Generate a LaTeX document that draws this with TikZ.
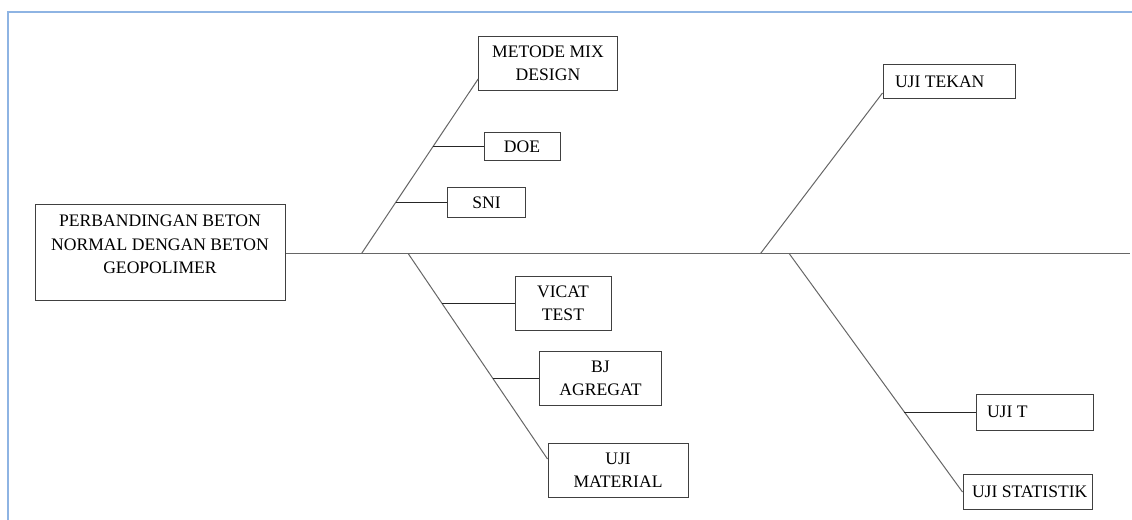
\documentclass[tikz,border=0pt]{standalone}
\usepackage{fontspec}
\setmainfont{Liberation Serif}
\usetikzlibrary{calc}
\begin{document}
\begin{tikzpicture}[x=0.75pt, y=-0.75pt,
		box/.style = {draw=black!75, line width=0.75pt, inner sep=0pt, align=center},
		lbox/.style = {box, align=flush left, inner xsep=0pt},
		bone/.style = {draw=black!60, line width=0.75pt},
		rib/.style = {draw=black!85, line width=0.75pt},
		font=\fontsize{13.2pt}{17.6pt}\selectfont]
		\useasboundingbox (0,0) rectangle (1132,520);
		\draw[line width=0.9pt, color={rgb,255:red,142;green,180;blue,227}] (8,520) -- (8,12) -- (1132,12);
		% head
		\node[box, minimum width=187.5pt, minimum height=72pt, text depth=13pt] (perbandingan) at (160,253)
			{PERBANDINGAN BETON\\NORMAL DENGAN BETON\\GEOPOLIMER};
		% boxes
		\node[box, minimum width=104pt, minimum height=41pt] (metode) at (548,63.5) {METODE MIX\\DESIGN};
		\node[box, minimum width=57pt, minimum height=21pt] (doe) at (522,147) {DOE};
		\node[box, minimum width=58pt, minimum height=22pt] (sni) at (486.5,202.5) {SNI};
		\node[box, minimum width=72pt, minimum height=41pt] (vicat) at (563,303.5) {VICAT\\TEST};
		\node[box, minimum width=91pt, minimum height=41pt] (bj) at (600.5,378.5) {BJ\\AGREGAT};
		\node[box, minimum width=105pt, minimum height=41pt] (material) at (618,470.5) {UJI\\MATERIAL};
		\node[lbox, text width=99pt, minimum height=26pt] (tekan) at (949,81.5) {\hspace*{9pt}UJI TEKAN};
		\node[lbox, text width=87.75pt, minimum height=27pt] (ujit) at (1034.5,412) {\hspace*{8.25pt}UJI T};
		\node[lbox, text width=96.75pt, minimum height=26pt] (statistik) at (1027.5,492) {\hspace*{6.75pt}UJI STATISTIK};
		% spine and bones
		\coordinate (s1) at (361.7,253.3);
		\coordinate (s2) at (408,253.3);
		\coordinate (s3) at (760.7,253.3);
		\coordinate (s4) at (789,253.3);
		\coordinate (tail) at (1130,253.3);
		\draw[bone] (perbandingan.east |- s1) -- (tail);
		\draw[bone] (s1) -- ($(metode.west)+(0,15.5)$) coordinate (e1);
		\draw[bone] (s2) -- ($(material.west)+(0,-11.5)$) coordinate (e2);
		\draw[bone] (s3) -- ($(tekan.west)+(0,11.5)$) coordinate (e3);
		\draw[bone] (s4) -- (statistik.west) coordinate (e4);
		% ribs
		\coordinate (r1) at (intersection of s1--e1 and doe.west--doe.east);
		\coordinate (r2) at (intersection of s1--e1 and sni.west--sni.east);
		\coordinate (r3) at (intersection of s2--e2 and vicat.west--vicat.east);
		\coordinate (r4) at (intersection of s2--e2 and bj.west--bj.east);
		\coordinate (r5) at (intersection of s4--e4 and ujit.west--ujit.east);
		\draw[rib] (doe.west) -- (r1 |- doe.west);
		\draw[rib] (sni.west) -- (r2 |- sni.west);
		\draw[rib] (vicat.west) -- (r3 |- vicat.west);
		\draw[rib] (bj.west) -- (r4 |- bj.west);
		\draw[rib] (ujit.west) -- (r5 |- ujit.west);
\end{tikzpicture}
\end{document}
